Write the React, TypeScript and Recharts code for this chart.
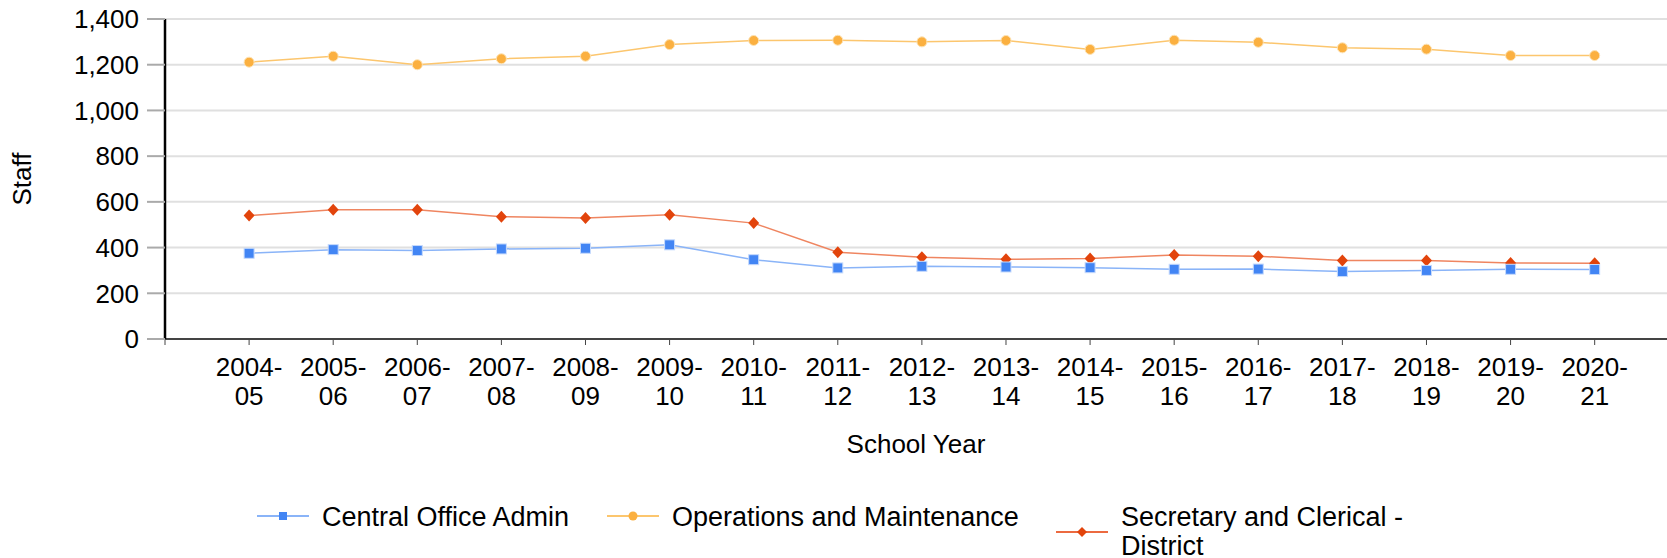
import React from "react"
import { LineChart, Line, XAxis, YAxis, CartesianGrid } from "recharts"

const years = [
  "2004-05", "2005-06", "2006-07", "2007-08", "2008-09", "2009-10",
  "2010-11", "2011-12", "2012-13", "2013-14", "2014-15", "2015-16",
  "2016-17", "2017-18", "2018-19", "2019-20", "2020-21",
]

const centralOffice = [375, 391, 387, 394, 397, 412, 347, 311, 318, 315, 312, 305, 306, 295, 300, 305, 304]
const operations = [1211, 1237, 1200, 1226, 1237, 1288, 1306, 1307, 1300, 1306, 1267, 1307, 1298, 1274, 1268, 1240, 1240]
const secretary = [540, 565, 565, 535, 529, 544, 507, 380, 358, 349, 352, 368, 362, 343, 343, 333, 331]

const yTicks = [0, 200, 400, 600, 800, 1000, 1200, 1400]

const data = years.map((year, i) => ({
  idx: i,
  year,
  central: centralOffice[i],
  ops: operations[i],
  sec: secretary[i],
}))

const xTicks = [-1, ...years.map((_, i) => i)]

const FONT = "'Liberation Sans', Arial, sans-serif"
const BLUE = "#4285f4"
const ORANGE = "#fbb040"
const RED = "#e2440c"

const SquareDot = (props: any) => {
  const { cx, cy, index } = props
  return <rect key={`s${index}`} x={cx - 5} y={cy - 5} width={10} height={10} fill={BLUE} stroke="#c6dafc" strokeWidth={1} />
}

const CircleDot = (props: any) => {
  const { cx, cy, index } = props
  return <circle key={`c${index}`} cx={cx} cy={cy} r={5} fill={ORANGE} stroke="#fde3b5" strokeWidth={1} />
}

const DiamondDot = (props: any) => {
  const { cx, cy, index } = props
  return (
    <polygon
      key={`d${index}`}
      points={`${cx},${cy - 6} ${cx + 5.5},${cy} ${cx},${cy + 6} ${cx - 5.5},${cy}`}
      fill={RED}
    />
  )
}

const YearTick = (props: any) => {
  const { x, y, payload } = props
  const label = years[payload.value]
  if (!label) return <g />
  const [a, b] = label.split("-")
  return (
    <text x={x} textAnchor="middle" fontSize={26} fontFamily={FONT} fill="#000">
      <tspan x={x} y={y + 31}>{a}-</tspan>
      <tspan x={x} y={y + 60}>{b}</tspan>
    </text>
  )
}

const legendItems = [
  { left: 257, top: 516, color: BLUE, line: "#8ab4f8", shape: "square", label: ["Central Office Admin"] },
  { left: 607, top: 516, color: ORANGE, line: "#fcc66e", shape: "circle", label: ["Operations and Maintenance"] },
  { left: 1056, top: 532, color: RED, line: "#ec6a40", shape: "diamond", label: ["Secretary and Clerical -", "District"] },
]

function LegendMarker({ color, line, shape }: { color: string; line: string; shape: string }) {
  return (
    <svg width={52} height={12} style={{ display: "block" }}>
      <line x1={0} y1={6} x2={52} y2={6} stroke={line} strokeWidth={2} />
      {shape === "square" && <rect x={22} y={2} width={8} height={8} fill={color} />}
      {shape === "circle" && <circle cx={26} cy={6} r={4.5} fill={color} />}
      {shape === "diamond" && <polygon points="26,1 31,6 26,11 21,6" fill={color} />}
    </svg>
  )
}

export default function App() {
  return (
    <div style={{ position: "relative", width: 1667, height: 558, fontFamily: FONT, background: "#fff" }}>
      <style>{`body{margin:0}`}</style>
      <LineChart width={1667} height={558} data={data} margin={{ top: 19, right: 0, left: 0, bottom: 0 }}>
        <CartesianGrid vertical={false} stroke="#e0e0e0" strokeWidth={2} />
        <XAxis
          dataKey="idx"
          type="number"
          domain={[-1, 16.86]}
          ticks={xTicks}
          interval={0}
          height={219}
          tick={<YearTick />}
          tickSize={6}
          tickMargin={0}
          axisLine={{ stroke: "#444", strokeWidth: 2 }}
          tickLine={{ stroke: "#444", strokeWidth: 1 }}
          allowDataOverflow
          label={({ viewBox }: any) => (
            <text x={viewBox.x + viewBox.width / 2} y={viewBox.y + 114} textAnchor="middle" fontSize={26} fontFamily={FONT} fill="#000">
              School Year
            </text>
          )}
        />
        <YAxis
          domain={[0, 1400]}
          ticks={yTicks}
          width={165}
          tickSize={18}
          tickMargin={8}
          tickFormatter={(v: number) => v.toLocaleString("en-US")}
          tick={{ fontSize: 26, fontFamily: FONT, fill: "#000" }}
          axisLine={{ stroke: "#000", strokeWidth: 2.5 }}
          tickLine={{ stroke: "#aaa", strokeWidth: 2 }}
          label={({ viewBox }: any) => {
            const cx = 22
            const cy = viewBox.y + viewBox.height / 2
            return (
              <text x={cx} y={cy} transform={`rotate(-90 ${cx} ${cy})`} textAnchor="middle" dominantBaseline="central" fontSize={26} fontFamily={FONT} fill="#000">
                Staff
              </text>
            )
          }}
        />
        <Line dataKey="ops" stroke="#fcc66e" strokeWidth={1.5} dot={<CircleDot />} activeDot={false} isAnimationActive={false} />
        <Line dataKey="sec" stroke="#ef8560" strokeWidth={1.5} dot={<DiamondDot />} activeDot={false} isAnimationActive={false} />
        <Line dataKey="central" stroke="#8ab4f8" strokeWidth={1.5} dot={<SquareDot />} activeDot={false} isAnimationActive={false} />
      </LineChart>
      {legendItems.map((it) => (
        <div key={it.label[0]} style={{ position: "absolute", left: it.left, top: it.top - 6 }}>
          <LegendMarker color={it.color} line={it.line} shape={it.shape} />
        </div>
      ))}
      {legendItems.map((it) => (
        <div
          key={`t${it.label[0]}`}
          style={{
            position: "absolute",
            left: it.left + 65,
            top: 516 - 13,
            fontSize: 27,
            lineHeight: "29px",
            color: "#000",
            whiteSpace: "nowrap",
          }}
        >
          {it.label.map((l) => (
            <div key={l}>{l}</div>
          ))}
        </div>
      ))}
    </div>
  )
}
